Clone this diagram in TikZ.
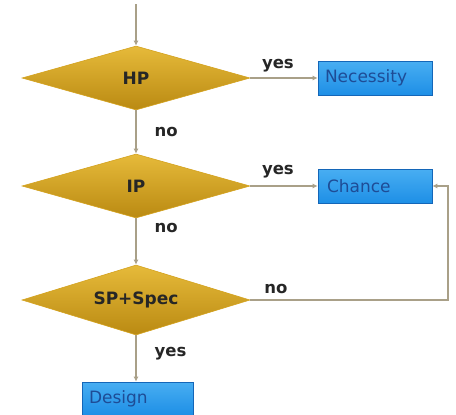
\documentclass[tikz,border=0pt]{standalone}
\usepackage{fontspec}
\setmainfont{DejaVu Sans}
\usetikzlibrary{shapes.geometric, arrows.meta}

\definecolor{gold}{HTML}{D4A21E}
\definecolor{goldlight}{HTML}{E6BA3A}
\definecolor{golddark}{HTML}{BA8A12}
\definecolor{boxblue}{HTML}{1E8FE6}
\definecolor{boxlight}{HTML}{48AEF2}
\definecolor{boxedge}{HTML}{1466B8}
\definecolor{boxtext}{HTML}{1E4C96}
\definecolor{wire}{HTML}{A9A088}

\begin{document}
\begin{tikzpicture}[
        x=1pt, y=-1pt, % Пиксели сверху вниз
        decision/.style = {diamond, aspect=3.6, minimum width=228pt, minimum height=64pt,
                inner sep=0pt, top color=goldlight, bottom color=golddark, draw=gold, line width=0.6pt,
                font=\fontsize{17}{20}\selectfont\bfseries, text=black!85},
        outcome/.style = {rectangle, minimum width=114pt, minimum height=34pt, inner sep=0pt,
                text width=100pt, align=left,
                top color=boxlight, bottom color=boxblue, draw=boxedge, line width=0.6pt,
                text=boxtext, font=\fontsize{17}{20}\selectfont},
        lbl/.style = {font=\fontsize{16.5}{20}\selectfont\bfseries, text=black!85, inner sep=0pt},
        flow/.style = {draw=wire, line width=1.4pt, -{Latex[length=5pt, width=5pt]}},
    ]
    \useasboundingbox (0,0) rectangle (456,415);

    % Ромбы решений
    \node[decision] (hp)   at (136,78)  {HP};
    \node[decision] (ip)   at (136,186) {IP};
    \node[decision, minimum height=70pt] (spec) at (136,300) {SP+Spec};

    % Итоги
    \node[outcome] (necessity) at (375,78)  {Necessity};
    \node[outcome] (chance)    at (375,186) {\hspace*{2pt}Chance};
    \node[outcome, minimum width=111pt, minimum height=33pt, text width=97pt] (design) at (137.5,398.5) {Design};

    \coordinate (start) at (136,4);
    \coordinate (bend)  at (448,300);

    % Связи
    \draw[flow] (start) -- (hp.north);
    \draw[flow] (hp.east) -- node[lbl, pos=0.41, above=5pt] {yes} (necessity.west);
    \draw[flow] (hp.south) -- node[lbl, right=18pt] {no} (ip.north);
    \draw[flow] (ip.east) -- node[lbl, pos=0.41, above=7pt] {yes} (chance.west);
    \draw[flow] (ip.south) -- node[lbl, pos=0.2, right=18pt] {no} (spec.north);
    \draw[flow] (spec.east) -- node[lbl, pos=0.13, above=6pt] {no} (bend) |- (chance.east);
    \draw[flow] (spec.south) -- node[lbl, pos=0.4, right=18pt] {yes} (spec.south |- design.north);
\end{tikzpicture}
\end{document}
